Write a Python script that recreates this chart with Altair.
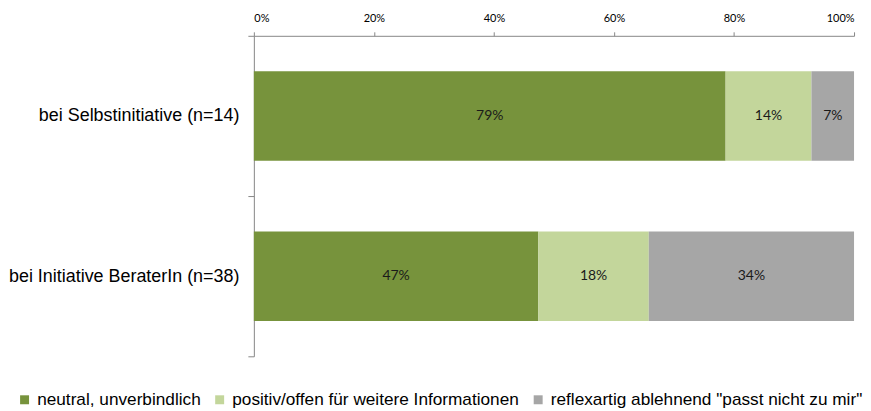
import altair as alt
import pandas as pd

groups = ["bei Selbstinitiative (n=14)", "bei Initiative BeraterIn (n=38)"]
categories = [
    "neutral, unverbindlich",
    "positiv/offen für weitere Informationen",
    'reflexartig ablehnend "passt nicht zu mir"',
]
colors = ["#77933C", "#C3D69B", "#A6A6A6"]
values_selbst = [0.786, 0.143, 0.071]
values_berater = [0.474, 0.184, 0.342]
tick_values = [0, 0.2, 0.4, 0.6, 0.8, 1.0]

rows = []
for g, vals in zip(groups, [values_selbst, values_berater]):
    for i, (c, v) in enumerate(zip(categories, vals)):
        rows.append({"group": g, "category": c, "value": v, "order": i})
df = pd.DataFrame(rows)

base = alt.Chart(df).transform_stack(
    stack="value", as_=["start", "end"], groupby=["group"],
    sort=[alt.SortField("order", order="ascending")]
).transform_calculate(mid="(datum.start + datum.end) / 2")

y_enc = alt.Y(
    "group:N", sort=groups, title=None,
    scale=alt.Scale(paddingInner=0, paddingOuter=0),
    axis=alt.Axis(
        tickBand="extent", tickSize=6, labelPadding=9, labelFontSize=18,
        labelFont="Liberation Sans", labelColor="#000000", labelLimit=400,
        domainColor="#868686", tickColor="#868686",
    ),
)

bars = base.mark_bar(size=90).encode(
    x=alt.X(
        "start:Q", title=None,
        scale=alt.Scale(domain=[0, 1], nice=False),
        axis=alt.Axis(
            orient="top", format=".0%", values=tick_values, grid=False,
            tickSize=4, labelPadding=8, labelFont="Lato", labelFontSize=11,
            labelColor="#000000", domainColor="#868686", tickColor="#868686",
            minExtent=27, maxExtent=27,
        ),
    ),
    x2="end:Q",
    y=y_enc,
    color=alt.Color(
        "category:N",
        scale=alt.Scale(domain=categories, range=colors),
        legend=alt.Legend(
            title=None, orient="none", direction="horizontal",
            legendX=-239, legendY=357, symbolType="square", symbolSize=81,
            symbolStrokeWidth=0, labelFontSize=17.3, labelFont="Liberation Sans",
            labelColor="#000000", labelLimit=1000, columnPadding=10,
            labelOffset=4,
        ),
    ),
)

labels = base.mark_text(font="Lato", fontSize=14, color="#1a1a1a").encode(
    x=alt.X("mid:Q"),
    y=alt.Y("group:N", sort=groups),
    text=alt.Text("value:Q", format=".0%"),
)

chart = (bars + labels).properties(
    width=603, height=322, padding=0
).configure_view(stroke=None)

chart.save("out.html", embed_options={"renderer": "svg", "actions": False})
